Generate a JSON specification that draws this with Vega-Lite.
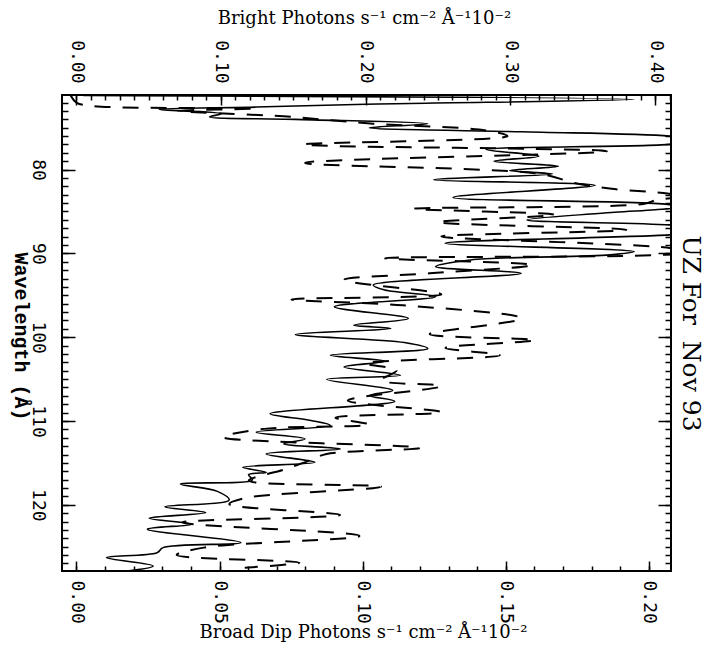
{
  "$schema": "https://vega.github.io/schema/vega-lite/v6.json",
  "width": 609,
  "height": 476,
  "autosize": "none",
  "padding": {"left": 62, "top": 95, "right": 46, "bottom": 79},
  "background": "white",
  "config": {
    "view": {"stroke": "black", "strokeWidth": 2},
    "axis": {"grid": false, "domain": false, "labelFont": "DejaVu Sans Mono", "labelFontSize": 18, "labelColor": "black", "titleColor": "black", "tickColor": "black", "tickWidth": 1.5}
  },
  "datasets": {
    "bright": [
      {"wl": 71.15, "flux": 0.005}, {"wl": 71.62, "flux": 0.3855}, {"wl": 72.2, "flux": 0.2}, {"wl": 72.54, "flux": 0.1245},
      {"wl": 72.82, "flux": 0.0573}, {"wl": 73.34, "flux": 0.1003}, {"wl": 73.7, "flux": 0.0922}, {"wl": 74.01, "flux": 0.1514},
      {"wl": 74.53, "flux": 0.2429}, {"wl": 75.01, "flux": 0.2026}, {"wl": 75.49, "flux": 0.3075}, {"wl": 76.01, "flux": 0.41},
      {"wl": 76.5, "flux": 0.43}, {"wl": 76.99, "flux": 0.41}, {"wl": 77.61, "flux": 0.2833}, {"wl": 78.4, "flux": 0.3196},
      {"wl": 79.0, "flux": 0.2887}, {"wl": 79.6, "flux": 0.3331}, {"wl": 80.12, "flux": 0.2994}, {"wl": 80.52, "flux": 0.329},
      {"wl": 81.2, "flux": 0.247}, {"wl": 81.88, "flux": 0.3586}, {"wl": 83.32, "flux": 0.2604}, {"wl": 84.19, "flux": 0.41},
      {"wl": 84.5, "flux": 0.415}, {"wl": 84.8, "flux": 0.4}, {"wl": 85.1, "flux": 0.372}, {"wl": 86.0, "flux": 0.3115},
      {"wl": 86.6, "flux": 0.41}, {"wl": 87.2, "flux": 0.45}, {"wl": 87.79, "flux": 0.41}, {"wl": 88.78, "flux": 0.255},
      {"wl": 89.78, "flux": 0.3855}, {"wl": 90.18, "flux": 0.369}, {"wl": 90.78, "flux": 0.2725}, {"wl": 91.58, "flux": 0.2483},
      {"wl": 92.38, "flux": 0.3075}, {"wl": 93.77, "flux": 0.2053}, {"wl": 94.37, "flux": 0.2133}, {"wl": 95.17, "flux": 0.2483},
      {"wl": 96.37, "flux": 0.1784}, {"wl": 97.76, "flux": 0.2295}, {"wl": 98.56, "flux": 0.1918}, {"wl": 98.96, "flux": 0.2174},
      {"wl": 99.68, "flux": 0.1514}, {"wl": 100.64, "flux": 0.2268}, {"wl": 101.36, "flux": 0.2429}, {"wl": 102.16, "flux": 0.1757},
      {"wl": 102.87, "flux": 0.2133}, {"wl": 103.55, "flux": 0.1851}, {"wl": 104.55, "flux": 0.2241}, {"wl": 105.03, "flux": 0.173},
      {"wl": 106.35, "flux": 0.2187}, {"wl": 106.95, "flux": 0.2026}, {"wl": 107.66, "flux": 0.2201}, {"wl": 109.14, "flux": 0.134},
      {"wl": 109.94, "flux": 0.1622}, {"wl": 110.54, "flux": 0.1757}, {"wl": 111.33, "flux": 0.1245}, {"wl": 112.13, "flux": 0.1582},
      {"wl": 112.73, "flux": 0.1434}, {"wl": 113.33, "flux": 0.1824}, {"wl": 113.93, "flux": 0.1313}, {"wl": 114.93, "flux": 0.1649},
      {"wl": 115.53, "flux": 0.1151}, {"wl": 116.13, "flux": 0.1313}, {"wl": 116.4, "flux": 0.1191}, {"wl": 117.04, "flux": 0.1218},
      {"wl": 117.52, "flux": 0.072}, {"wl": 118.4, "flux": 0.0976}, {"wl": 119.44, "flux": 0.1057}, {"wl": 120.24, "flux": 0.0613},
      {"wl": 120.92, "flux": 0.0895}, {"wl": 121.6, "flux": 0.0505}, {"wl": 122.31, "flux": 0.0801}, {"wl": 122.91, "flux": 0.0492},
      {"wl": 124.51, "flux": 0.1138}, {"wl": 125.11, "flux": 0.06}, {"wl": 125.71, "flux": 0.0559}, {"wl": 126.3, "flux": 0.0209},
      {"wl": 127.3, "flux": 0.0532}, {"wl": 127.9, "flux": 0.035}
    ],
    "broad": [
      {"wl": 71.15, "flux": -0.002}, {"wl": 72.0, "flux": 0.0}, {"wl": 72.42, "flux": 0.0057}, {"wl": 72.7, "flux": 0.0629},
      {"wl": 73.0, "flux": 0.0357}, {"wl": 73.65, "flux": 0.0724}, {"wl": 74.53, "flux": 0.1037}, {"wl": 75.33, "flux": 0.1431},
      {"wl": 76.01, "flux": 0.1506}, {"wl": 77.01, "flux": 0.0792}, {"wl": 77.81, "flux": 0.1853}, {"wl": 79.2, "flux": 0.0799},
      {"wl": 80.52, "flux": 0.1622}, {"wl": 81.6, "flux": 0.174}, {"wl": 82.3, "flux": 0.187}, {"wl": 82.8, "flux": 0.205},
      {"wl": 83.2, "flux": 0.212}, {"wl": 83.6, "flux": 0.203}, {"wl": 84.1, "flux": 0.198}, {"wl": 84.67, "flux": 0.118},
      {"wl": 85.39, "flux": 0.167}, {"wl": 86.27, "flux": 0.1262}, {"wl": 87.19, "flux": 0.1921}, {"wl": 87.99, "flux": 0.1275},
      {"wl": 89.46, "flux": 0.209}, {"wl": 89.9, "flux": 0.212}, {"wl": 90.58, "flux": 0.1078}, {"wl": 91.38, "flux": 0.1595},
      {"wl": 92.38, "flux": 0.1234}, {"wl": 93.17, "flux": 0.0935}, {"wl": 94.89, "flux": 0.1275}, {"wl": 95.49, "flux": 0.0751},
      {"wl": 96.2, "flux": 0.114}, {"wl": 97.76, "flux": 0.1554}, {"wl": 99.64, "flux": 0.1234}, {"wl": 100.36, "flux": 0.1602},
      {"wl": 101.28, "flux": 0.1289}, {"wl": 102.16, "flux": 0.1479}, {"wl": 103.15, "flux": 0.101}, {"wl": 103.95, "flux": 0.1119},
      {"wl": 105.15, "flux": 0.1064}, {"wl": 105.83, "flux": 0.1275}, {"wl": 107.55, "flux": 0.0948}, {"wl": 108.94, "flux": 0.1275},
      {"wl": 109.6, "flux": 0.0905}, {"wl": 110.42, "flux": 0.1023}, {"wl": 110.94, "flux": 0.0656}, {"wl": 111.93, "flux": 0.0513},
      {"wl": 113.21, "flux": 0.12}, {"wl": 113.93, "flux": 0.0874}, {"wl": 114.65, "flux": 0.0819}, {"wl": 115.73, "flux": 0.0731},
      {"wl": 117.12, "flux": 0.0602}, {"wl": 117.84, "flux": 0.1064}, {"wl": 119.2, "flux": 0.0588}, {"wl": 119.92, "flux": 0.0534},
      {"wl": 121.2, "flux": 0.0921}, {"wl": 122.11, "flux": 0.037}, {"wl": 123.71, "flux": 0.0989}, {"wl": 125.11, "flux": 0.0445},
      {"wl": 125.99, "flux": 0.035}, {"wl": 126.9, "flux": 0.0779}, {"wl": 127.5, "flux": 0.0588}
    ]
  },
  "layer": [
    {
      "data": {"name": "bright"},
      "mark": {"type": "line", "color": "black", "strokeWidth": 1.6, "interpolate": "catmull-rom", "clip": true},
      "encoding": {
        "x": {"field": "flux", "type": "quantitative", "scale": {"domain": [-0.0098, 0.411], "nice": false, "zero": false},
          "axis": {"orient": "top", "values": [0, 0.1, 0.2, 0.3, 0.4], "format": ".2f", "labelAngle": 90, "labelAlign": "right", "labelBaseline": "middle", "labelPadding": 12, "ticks": false,
            "title": "Bright Photons s⁻¹ cm⁻² Å⁻¹10⁻²", "titleFont": "DejaVu Serif", "titleFontSize": 18, "titleFontWeight": "normal", "titleX": 302, "titleY": -77, "titleAlign": "center", "titleBaseline": "middle", "titleAngle": 0}},
        "y": {"field": "wl", "type": "quantitative", "scale": {"domain": [71.1, 127.9], "reverse": true, "nice": false, "zero": false},
          "axis": {"orient": "left", "values": [80, 90, 100, 110, 120], "format": "d", "labelAngle": 90, "labelAlign": "center", "labelBaseline": "top", "labelPadding": 16, "ticks": false,
            "title": "Wavelength (Å)", "titleFont": "Liberation Mono", "titleFontSize": 20, "titleFontWeight": "bold", "titleAngle": 90, "titleX": -42, "titleY": 241, "titleAlign": "center", "titleBaseline": "middle"}},
        "order": {"field": "wl", "type": "quantitative"}
      }
    },
    {
      "data": {"name": "broad"},
      "mark": {"type": "line", "color": "black", "strokeWidth": 2, "strokeDash": [16, 12], "interpolate": "catmull-rom", "clip": true},
      "encoding": {
        "x": {"field": "flux", "type": "quantitative", "scale": {"domain": [-0.00503, 0.2077], "nice": false, "zero": false},
          "axis": {"orient": "bottom", "values": [0, 0.05, 0.1, 0.15, 0.2], "format": ".2f", "labelAngle": 90, "labelAlign": "left", "labelBaseline": "middle", "labelPadding": 9, "ticks": false,
            "title": "Broad Dip Photons s⁻¹ cm⁻² Å⁻¹10⁻²", "titleFont": "DejaVu Serif", "titleFontSize": 18, "titleFontWeight": "normal", "titleX": 301, "titleY": 61, "titleAlign": "center", "titleBaseline": "middle", "titleAngle": 0}},
        "y": {"field": "wl", "type": "quantitative", "axis": null},
        "order": {"field": "wl", "type": "quantitative"}
      }
    },
    {
      "data": {"name": "bright"},
      "mark": {"type": "point", "opacity": 0},
      "encoding": {
        "x": {"field": "flux", "type": "quantitative", "scale": {"domain": [-0.0098, 0.411], "nice": false, "zero": false},
          "axis": {"orient": "top", "values": [0, 0.1, 0.2, 0.3, 0.4], "labels": false, "tickSize": 10, "offset": -10, "title": null}},
        "y": {"field": "wl", "type": "quantitative",
          "axis": {"orient": "left", "values": [80, 90, 100, 110, 120], "labels": false, "tickSize": 13, "offset": -13, "title": null}}
      }
    },
    {
      "data": {"name": "bright"},
      "mark": {"type": "point", "opacity": 0},
      "encoding": {
        "x": {"field": "flux", "type": "quantitative", "scale": {"domain": [-0.0098, 0.411], "nice": false, "zero": false},
          "axis": {"orient": "top", "values": [0, 0.01, 0.02, 0.03, 0.04, 0.05, 0.06, 0.07, 0.08, 0.09, 0.1, 0.11, 0.12, 0.13, 0.14, 0.15, 0.16, 0.17, 0.18, 0.19, 0.2, 0.21, 0.22, 0.23, 0.24, 0.25, 0.26, 0.27, 0.28, 0.29, 0.3, 0.31, 0.32, 0.33, 0.34, 0.35, 0.36, 0.37, 0.38, 0.39, 0.4, 0.41], "labels": false, "tickSize": 5, "offset": -5, "title": null}},
        "y": {"field": "wl", "type": "quantitative",
          "axis": {"orient": "left", "values": [72, 73, 74, 75, 76, 77, 78, 79, 80, 81, 82, 83, 84, 85, 86, 87, 88, 89, 90, 91, 92, 93, 94, 95, 96, 97, 98, 99, 100, 101, 102, 103, 104, 105, 106, 107, 108, 109, 110, 111, 112, 113, 114, 115, 116, 117, 118, 119, 120, 121, 122, 123, 124, 125, 126, 127], "labels": false, "tickSize": 6, "offset": -6, "title": null}}
      }
    },
    {
      "data": {"name": "broad"},
      "mark": {"type": "point", "opacity": 0},
      "encoding": {
        "x": {"field": "flux", "type": "quantitative", "scale": {"domain": [-0.00503, 0.2077], "nice": false, "zero": false},
          "axis": {"orient": "bottom", "values": [0, 0.05, 0.1, 0.15, 0.2], "labels": false, "tickSize": 10, "offset": -10, "title": null}},
        "y": {"field": "wl", "type": "quantitative",
          "axis": {"orient": "right", "values": [80, 90, 100, 110, 120], "labels": false, "tickSize": 13, "offset": -13,
            "title": "UZ For\u00a0 Nov 93", "titleFont": "DejaVu Serif", "titleFontSize": 25, "titleFontWeight": "normal", "titleAngle": 90, "titleX": 32, "titleY": 238, "titleAlign": "center", "titleBaseline": "middle"}}
      }
    },
    {
      "data": {"name": "broad"},
      "mark": {"type": "point", "opacity": 0},
      "encoding": {
        "x": {"field": "flux", "type": "quantitative", "scale": {"domain": [-0.00503, 0.2077], "nice": false, "zero": false},
          "axis": {"orient": "bottom", "values": [0, 0.01, 0.02, 0.03, 0.04, 0.05, 0.06, 0.07, 0.08, 0.09, 0.1, 0.11, 0.12, 0.13, 0.14, 0.15, 0.16, 0.17, 0.18, 0.19, 0.2], "labels": false, "tickSize": 5, "offset": -5, "title": null}},
        "y": {"field": "wl", "type": "quantitative",
          "axis": {"orient": "right", "values": [72, 73, 74, 75, 76, 77, 78, 79, 80, 81, 82, 83, 84, 85, 86, 87, 88, 89, 90, 91, 92, 93, 94, 95, 96, 97, 98, 99, 100, 101, 102, 103, 104, 105, 106, 107, 108, 109, 110, 111, 112, 113, 114, 115, 116, 117, 118, 119, 120, 121, 122, 123, 124, 125, 126, 127], "labels": false, "tickSize": 6, "offset": -6, "title": null}}
      }
    }
  ],
  "resolve": {"scale": {"x": "independent"}, "axis": {"x": "independent", "y": "independent"}}
}
